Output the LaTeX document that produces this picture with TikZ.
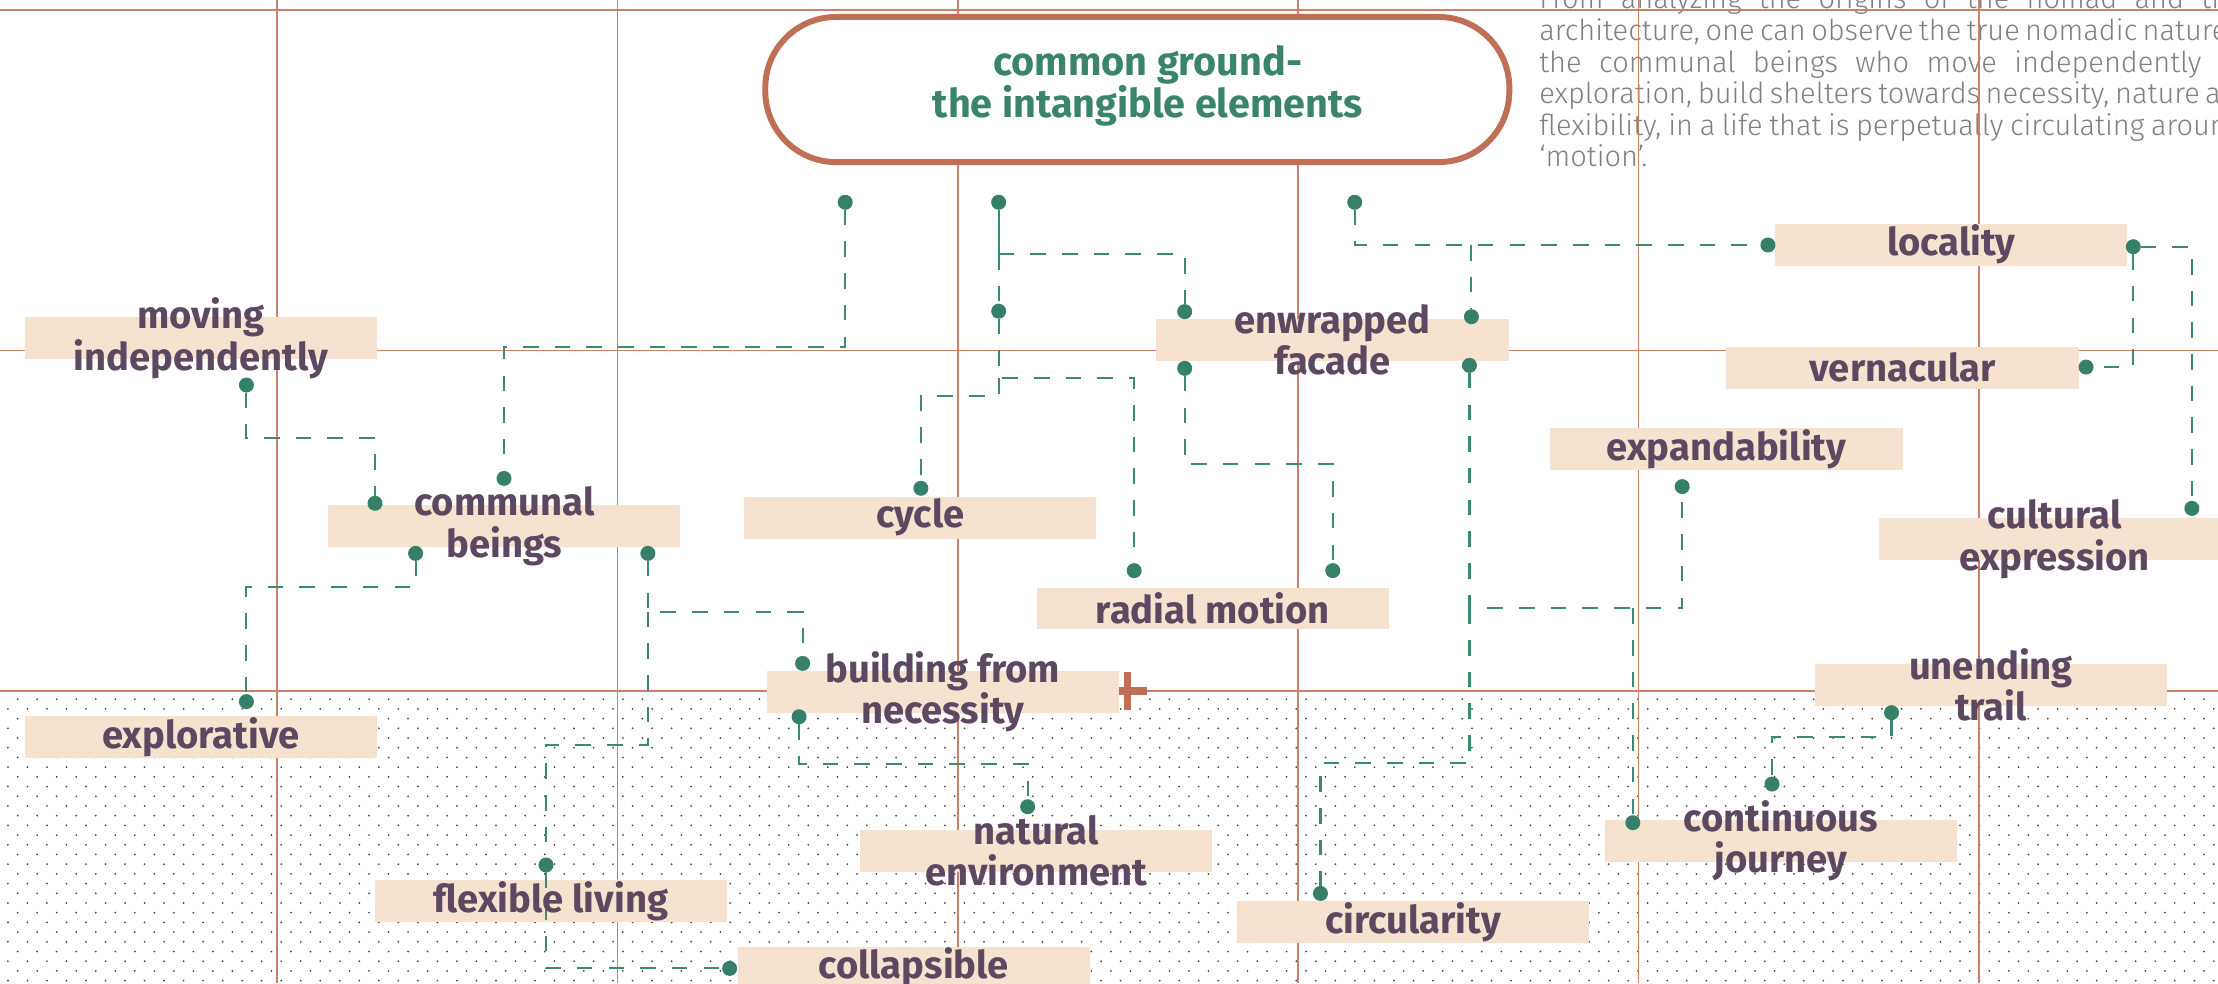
\documentclass[tikz,border=0pt]{standalone}
\usepackage{tikz}
\usepackage{fontspec}
\setmainfont{Fira Sans}
\IfFontExistsTF{Fira Sans Light}
 {\newfontfamily\parafont{Fira Sans Light}\colorlet{parac}{black!50}}
 {\newfontfamily\parafont{Fira Sans}\colorlet{parac}{black!42}}
\definecolor{boxfill}{HTML}{F7E2CF}
\definecolor{labelc}{HTML}{5D4862}
\definecolor{titlec}{HTML}{3A8569}
\definecolor{titleb}{HTML}{BE6F56}
\definecolor{gridc}{HTML}{C9816C}
\definecolor{connc}{HTML}{3E8A6E}
\definecolor{dotc}{HTML}{36806A}
\definecolor{bgdot}{HTML}{444444}
\tikzset{
  lbox/.style={fill=boxfill, minimum width=249pt, minimum height=29.6pt, inner sep=0pt, outer sep=0pt},
  ltext/.style={text=labelc, font=\bfseries\fontsize{27}{29.5}\selectfont, align=center, inner sep=0pt},
  conn/.style={draw=connc, line width=1.5pt, dash pattern=on 11pt off 11.4pt},
  connsolid/.style={draw=connc, line width=1.5pt},
  pindot/.style={circle, fill=dotc, minimum size=10.6pt, inner sep=0pt, outer sep=0pt},
  gridline/.style={draw=gridc, line width=1.2pt},
  paratext/.style={text=parac, font=\parafont\fontsize{20.5}{22.35}\selectfont, inner sep=0pt, anchor=base west},
}
\begin{document}
\begin{tikzpicture}[x=1pt,y=-1pt]
\useasboundingbox (0,0) rectangle (1568,695);
\fill[white] (0,0) rectangle (1568,695);
% dotted background
\foreach \k in {0,...,29}{
  \pgfmathsetmacro{\yy}{494.3+6.86*\k}
  \pgfmathsetmacro{\xx}{mod(\k,2)==0 ? 12.5 : 5.6}
  \draw[bgdot, line width=1.4pt, line cap=round, dash pattern=on 0pt off 13.8pt] (\xx,\yy) -- (1575,\yy);
}
% paragraph
\node[paratext] (para1) at (1088,6.3) {\makebox[498pt][s]{From analyzing the origins of the nomad and the}};
\node[paratext] (para2) at (1088,28.6) {\makebox[498pt][s]{architecture, one can observe the true nomadic nature of}};
\node[paratext] (para3) at (1088,51.0) {\makebox[498pt][s]{the communal beings who move independently in}};
\node[paratext] (para4) at (1088,73.3) {\makebox[498pt][s]{exploration, build shelters towards necessity, nature and}};
\node[paratext] (para5) at (1088,95.6) {\makebox[498pt][s]{flexibility, in a life that is perpetually circulating around}};
\node[paratext] (para6) at (1088,118.0) {‘motion’.};
% grid
\foreach \gx in {196,436.6,677.2,917.8,1158.4,1399}{
  \draw[gridline] (\gx,0) -- (\gx,695);
}
\foreach \gy in {7.1,247.7,488.3}{
  \draw[gridline] (0,\gy) -- (1568,\gy);
}
% plus mark
\draw[titleb, line width=5.5pt] (797,475) -- (797,502);
\draw[titleb, line width=5pt] (783,488.5) -- (811,488.5);
% title
\node[draw=titleb, line width=4.2pt, fill=white, rounded corners=50pt, minimum width=526pt, minimum height=102.6pt, inner sep=0pt] (titlebox) at (804,63.3) {};
\node[text=titlec, font=\bfseries\fontsize{28}{29.5}\selectfont, align=center, inner sep=0pt] (titletext) at (811.5,60.5) {common ground-\\the intangible elements};
% boxes
\node[lbox] (bMov) at (142,239) {};
\node[lbox] (bCom) at (356.5,372) {};
\node[lbox] (bCyc) at (650.5,366) {};
\node[lbox] (bEnw) at (942,240.3) {};
\node[lbox] (bLoc) at (1379.5,173) {};
\node[lbox] (bVer) at (1345,260) {};
\node[lbox] (bExp) at (1220.5,317.3) {};
\node[lbox] (bCul) at (1452.5,381) {};
\node[lbox] (bRad) at (857.5,430.2) {};
\node[lbox] (bBui) at (666.5,489.1) {};
\node[lbox] (bUne) at (1407.5,484.2) {};
\node[lbox] (bExl) at (142,521) {};
\node[lbox] (bNat) at (732.5,601.5) {};
\node[lbox] (bCon) at (1259,594.4) {};
\node[lbox] (bFle) at (389.5,636.8) {};
\node[lbox] (bCir) at (999,651.7) {};
\node[lbox] (bCol) at (646,684) {};
% dots
\node[pindot] (p1) at (597.5,143) {};
\node[pindot] (p2) at (706,143) {};
\node[pindot] (p3) at (957.7,143) {};
\node[pindot] (pComT) at (356.3,338.2) {};
\node[pindot] (pComL) at (265.1,355.8) {};
\node[pindot] (pComBL) at (293.8,391.2) {};
\node[pindot] (pComBR) at (458,391.2) {};
\node[pindot] (pMov) at (174.2,272.2) {};
\node[pindot] (pExl) at (174.2,496) {};
\node[pindot] (pCyc) at (651,345.2) {};
\node[pindot] (pEnwTL) at (837.5,220.3) {};
\node[pindot] (pEnwBL) at (837.5,260.4) {};
\node[pindot] (pEnwTR) at (1040.2,223.9) {};
\node[pindot] (pEnwBR) at (1038.8,258.3) {};
\node[pindot] (pMid) at (706,220) {};
\node[pindot] (pRadL) at (801.8,403.4) {};
\node[pindot] (pRadR) at (942.2,403.4) {};
\node[pindot] (pLocL) at (1249.8,173.2) {};
\node[pindot] (pLocR) at (1508.1,174.4) {};
\node[pindot] (pVer) at (1474.7,259.5) {};
\node[pindot] (pCul) at (1549.5,359.4) {};
\node[pindot] (pExp) at (1189.2,344) {};
\node[pindot] (pCon) at (1154.3,581.6) {};
\node[pindot] (pCir) at (933.5,631.6) {};
\node[pindot] (pBuiT) at (567.4,469) {};
\node[pindot] (pBuiB) at (564.9,506.7) {};
\node[pindot] (pNat) at (726.5,570.3) {};
\node[pindot] (pFle) at (386,611.5) {};
\node[pindot] (pCol) at (515.8,684.6) {};
\node[pindot] (pUne) at (1337.2,503.8) {};
\node[pindot] (pCon2) at (1252.7,554.3) {};
% bend points
\coordinate (k1) at (597.5,245.1);
\coordinate (k2) at (706,179.6);
\coordinate (k3) at (706,267.5);
\coordinate (k3b) at (706,280);
\coordinate (k4) at (837.5,328.3);
\coordinate (k5) at (957.7,173.2);
\coordinate (k5b) at (1040.2,173.2);
\coordinate (k6) at (1549.5,174.4);
\coordinate (k6b) at (1508.1,259.5);
\coordinate (k7) at (1038.8,430.1);
\coordinate (k7b) at (1154.3,430.1);
\coordinate (k7c) at (1038.8,539.7);
\coordinate (k8) at (174.2,309.9);
\coordinate (k9) at (293.8,415);
\coordinate (k10) at (458,432.4);
\coordinate (k10b) at (458,526.5);
\coordinate (k11) at (386,684.6);
\coordinate (k12) at (564.9,540.1);
\coordinate (k13) at (1337.2,520.8);
% connectors
\draw[conn] (p1) -- (k1) -| (pComT);
\draw[connsolid] (p2) -- (k2);
\draw[conn] (k2) -| (pEnwTL);
\draw[conn] (k2) -- (pMid);
\draw[conn] (pMid) -- (k3) -| (pRadL);
\draw[conn] (k3) -- (k3b) -| (pCyc);
\draw[conn] (pEnwBL) -- (k4) -| (pRadR);
\draw[conn] (p3) -- (k5) -- (pLocL);
\draw[conn] (k5b) -- (pEnwTR);
\draw[conn] (pLocR) -- (k6) -- (pCul);
\draw[conn] (pLocR) -- (k6b) -- (pVer);
\draw[conn] (pEnwBR) -- (k7) -| (pExp);
\draw[conn] (k7b) -- (pCon);
\draw[conn] (k7) -- (k7c) -| (pCir);
\draw[conn] (pMov) -- (k8) -| (pComL);
\draw[conn] (pComBL) -- (k9) -| (pExl);
\draw[conn] (pComBR) -- (k10) -| (pBuiT);
\draw[conn] (k10) -- (k10b) -| (pFle);
\draw[conn] (pFle) -- (k11) -- (pCol);
\draw[conn] (pBuiB) -- (k12) -| (pNat);
\draw[conn] (pUne) -- (k13) -| (pCon2);
% label texts
\node[ltext] (tMov) at (bMov.center) {moving\\independently};
\node[ltext] (tCom) at (bCom.center) {communal\\beings};
\node[ltext] (tCyc) at (bCyc.center) {cycle};
\node[ltext] (tEnw) at (bEnw.center) {enwrapped\\facade};
\node[ltext] (tLoc) at (bLoc.center) {locality};
\node[ltext] (tVer) at (bVer.center) {vernacular};
\node[ltext] (tExp) at (bExp.center) {expandability};
\node[ltext] (tCul) at (bCul.center) {cultural\\expression};
\node[ltext] (tRad) at (bRad.center) {radial motion};
\node[ltext] (tBui) at (bBui.center) {building from\\necessity};
\node[ltext] (tUne) at (bUne.center) {unending\\trail};
\node[ltext] (tExl) at (bExl.center) {explorative};
\node[ltext] (tNat) at (bNat.center) {natural\\environment};
\node[ltext] (tCon) at (bCon.center) {continuous\\journey};
\node[ltext] (tFle) at (bFle.center) {flexible living};
\node[ltext] (tCir) at (bCir.center) {circularity};
\node[ltext] (tCol) at (bCol.center) {collapsible};
\end{tikzpicture}
\end{document}
